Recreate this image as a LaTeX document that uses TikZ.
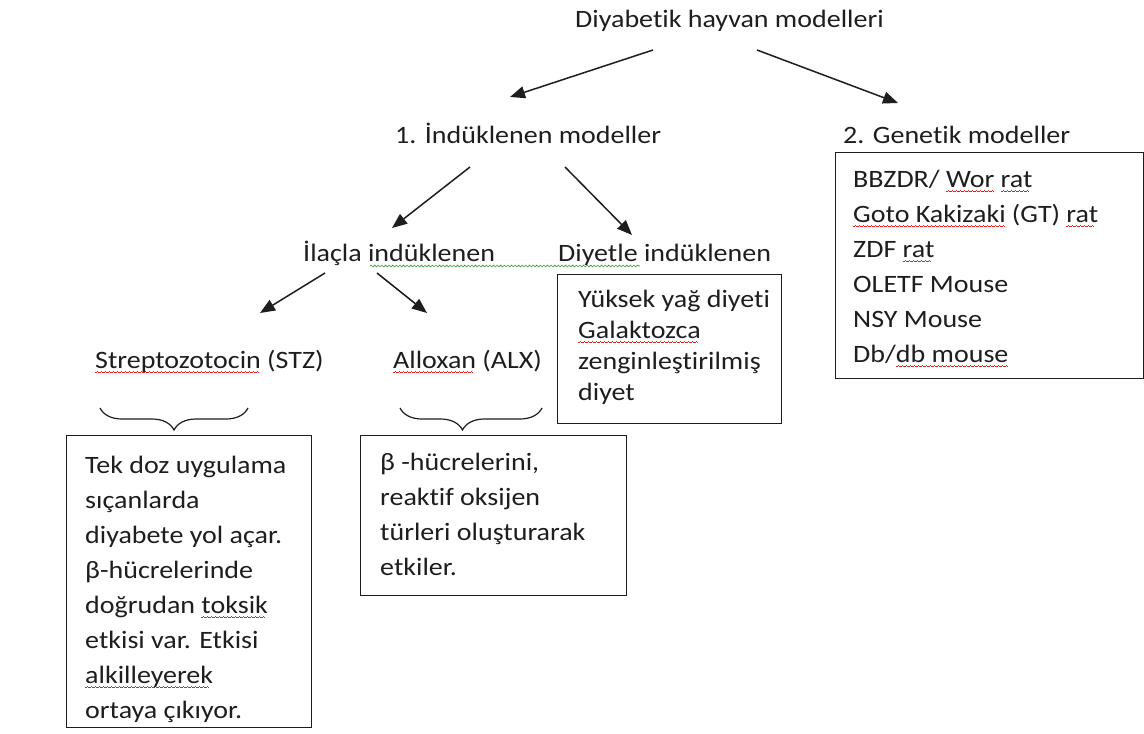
\documentclass[tikz,border=0pt]{standalone}
\usepackage{fontspec}
\setmainfont{Carlito}[FakeStretch=1.12,Ligatures=NoCommon]
\usepackage{xcolor}
\usetikzlibrary{arrows.meta,decorations.pathreplacing,decorations.pathmorphing,calc}
\definecolor{ink}{HTML}{1E1E1E}
\definecolor{spellred}{HTML}{E02020}
\definecolor{gramgreen}{HTML}{3A9A3A}
\newcommand\wseg{\rule[-5pt]{1pt}{0.8pt}\rule[-4.4pt]{1pt}{0.8pt}\rule[-3.8pt]{1pt}{0.8pt}\rule[-4.4pt]{1pt}{0.8pt}}
\newcommand\rw[1]{\setbox0\hbox{#1}\rlap{\hbox to\wd0{\color{spellred}\leaders\hbox{\wseg}\hfill}}\box0\relax}
\begin{document}
\begin{tikzpicture}[x=1pt,y=-1pt,
  font=\fontsize{25}{35}\selectfont,
  lbl/.style={anchor=base west, inner sep=0pt, text=ink},
  frame/.style={draw=ink, line width=1.4pt, anchor=north west, inner sep=0pt},
  arr/.style={draw=ink, line width=1.5pt, -{Triangle[length=15pt,width=12pt]}},
  brc/.style={draw=ink, line width=1.2pt, decorate, decoration={brace, mirror, amplitude=22pt, aspect=#1}},
  brc/.default=0.5,
  gwave/.style={draw=gramgreen, line width=0.6pt, decorate, decoration={snake, amplitude=0.9pt, segment length=3.6pt}}]
\useasboundingbox[fill=white] (0,0) rectangle (1144,734);

% labels
\node[lbl] (title) at (575,27) {Diyabetik hayvan modelleri};
\node[lbl] (ind) at (395,143) {1. İndüklenen modeller};
\node[lbl] (gen) at (843,143) {2. Genetik modeller};
\node[lbl] (ilac) at (303,261) {İlaçla indüklenen};
\node[lbl] (diyet) at (558,261) {Diyetle indüklenen};
\node[lbl] (stz) at (95,368) {\rw{Streptozotocin} (STZ)};
\node[lbl] (alx) at (393,368) {\rw{Alloxan} (ALX)};

% boxes
\node[frame, minimum width=308pt, minimum height=226pt] (genbox) at (835,152) {};
\node[lbl] (gentxt) at (853,187) {\begin{tabular}[t]{@{}l@{}}BBZDR/ \rw{Wor} \rw{rat}\\ \rw{Goto Kakizaki} (GT) \rw{rat}\\ ZDF \rw{rat}\\ OLETF Mouse\\ NSY Mouse\\ Db/\rw{db mouse}\end{tabular}};

\node[frame, minimum width=224pt, minimum height=149pt] (dietbox) at (557,274) {};
\node[lbl] (diettxt) at (578,307) {\fontsize{25}{31}\selectfont\begin{tabular}[t]{@{}l@{}}Yüksek yağ diyeti\\ \rw{Galaktozca}\\ zenginleştirilmiş\\ diyet\end{tabular}};

\node[frame, minimum width=245pt, minimum height=292pt] (stzbox) at (66,435) {};
\node[lbl] (stztxt) at (85,473) {\begin{tabular}[t]{@{}l@{}}Tek doz uygulama\\ sıçanlarda\\ diyabete yol açar.\\ β-hücrelerinde\\ doğrudan \rw{toksik}\\ etkisi var. Etkisi\\ \rw{alkilleyerek}\\ ortaya çıkıyor.\end{tabular}};

\node[frame, minimum width=266pt, minimum height=160pt] (alxbox) at (360,435) {};
\node[lbl] (alxtxt) at (380,470) {\begin{tabular}[t]{@{}l@{}}β -hücrelerini,\\ reaktif oksijen\\ türleri oluşturarak\\ etkiler.\end{tabular}};

% arrow end points
\coordinate (a1s) at (653,50);  \coordinate (a1e) at (510,97);
\coordinate (a2s) at (757,50);  \coordinate (a2e) at (898,103);
\coordinate (a3s) at (470,167); \coordinate (a3e) at (392,228);
\coordinate (a4s) at (565,167); \coordinate (a4e) at (632,235);
\coordinate (a5s) at (325,273); \coordinate (a5e) at (260,313);
\coordinate (a6s) at (377,273); \coordinate (a6e) at (427,313);
\draw[arr] (a1s) -- (a1e);
\draw[arr] (a2s) -- (a2e);
\draw[arr] (a3s) -- (a3e);
\draw[arr] (a4s) -- (a4e);
\draw[arr] (a5s) -- (a5e);
\draw[arr] (a6s) -- (a6e);

% braces
\coordinate (b1s) at (100,408);  \coordinate (b1e) at (248,408);
\coordinate (b2s) at (400,408); \coordinate (b2e) at (542,408);
\draw[brc] (b1s) -- (b1e);
\draw[brc=0.44] (b2s) -- (b2e);

% grammar wave
\coordinate (g1) at (370,266); \coordinate (g2) at (640,266);
\draw[gwave] (g1) -- (g2);
\end{tikzpicture}
\end{document}
